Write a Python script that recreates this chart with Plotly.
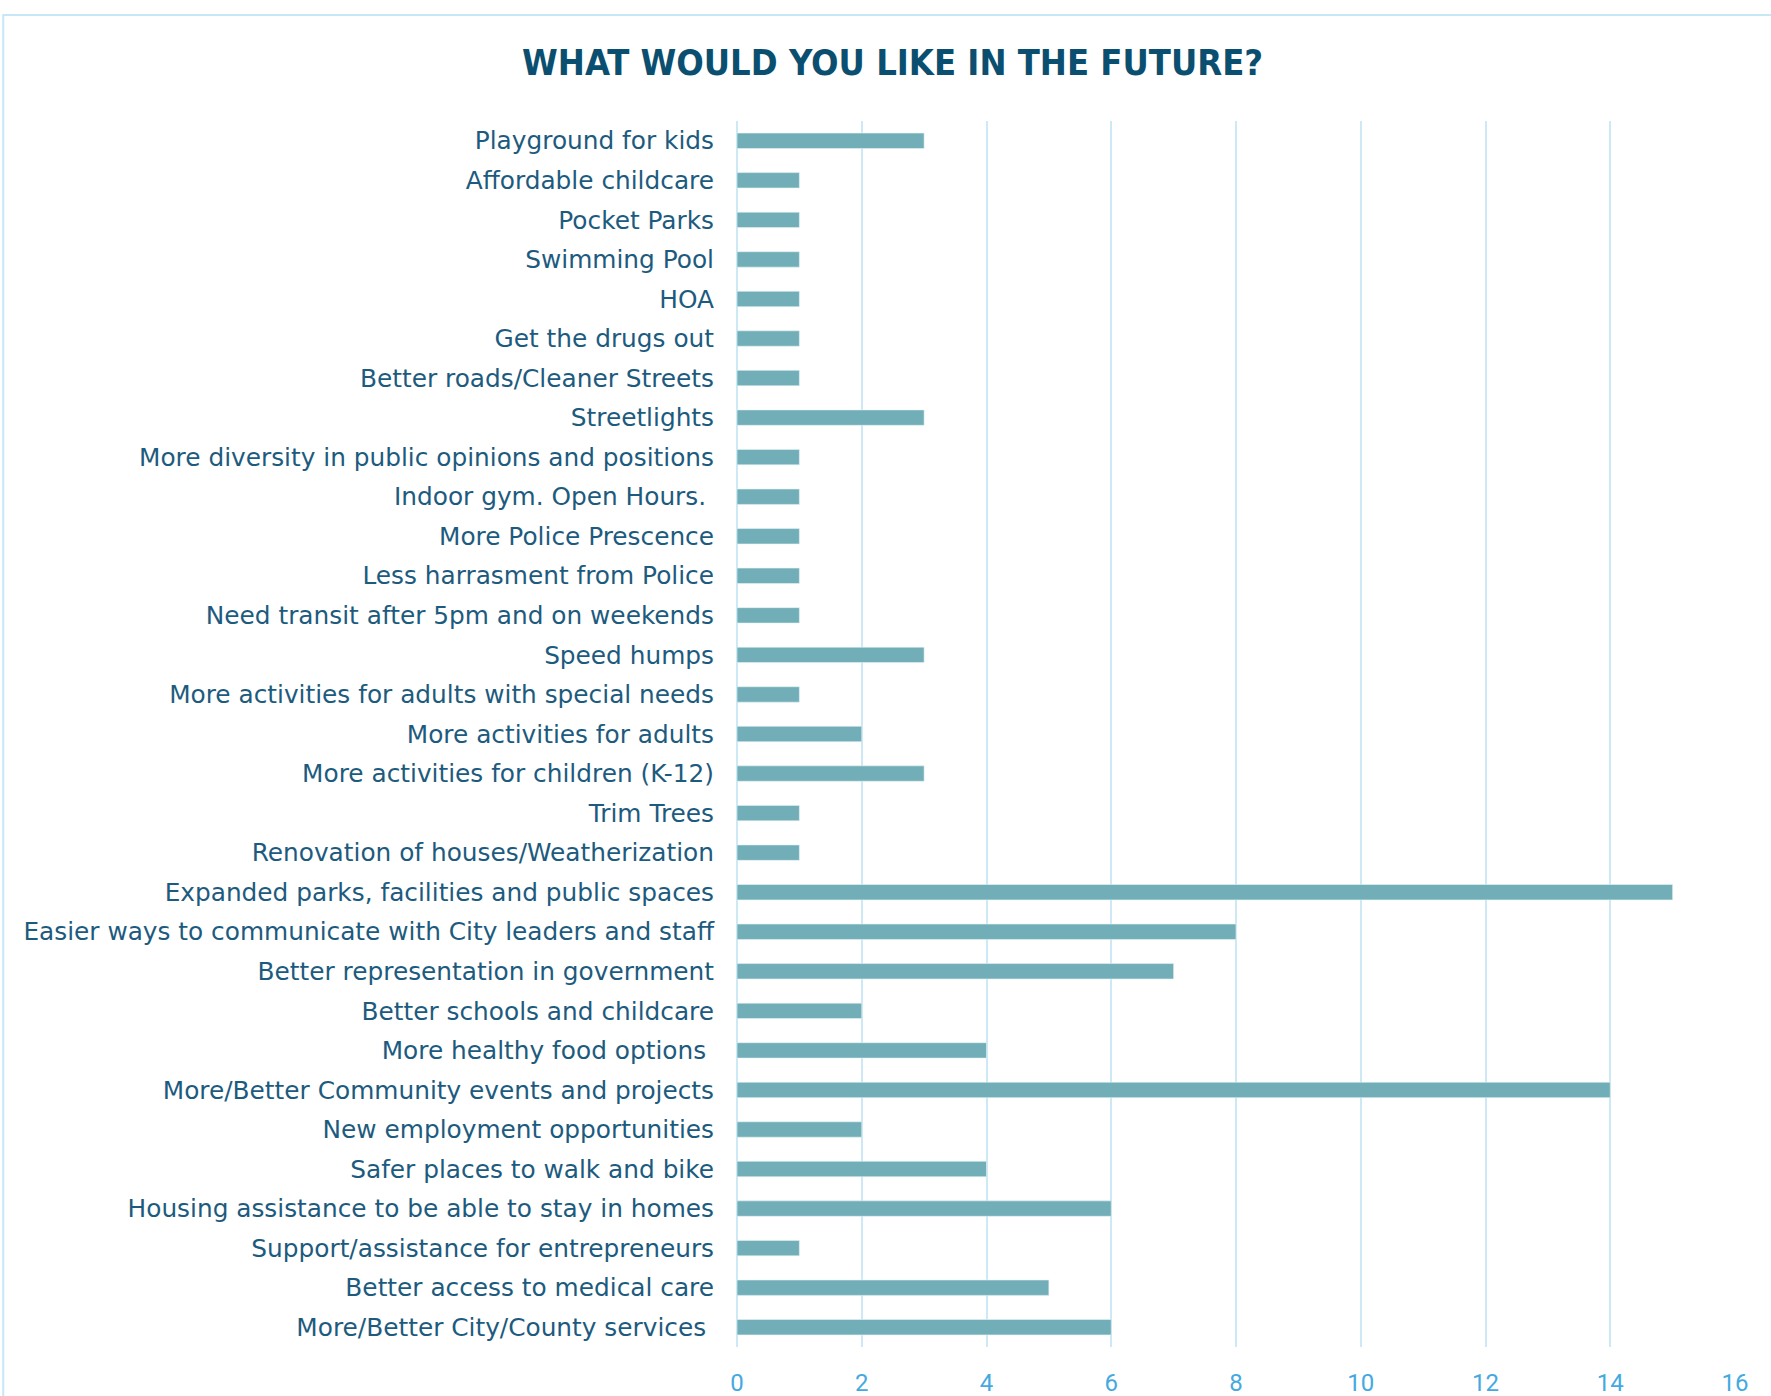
import plotly.graph_objects as go

# Survey responses, listed top to bottom as they appear on the chart
categories = [
    "Playground for kids",
    "Affordable childcare",
    "Pocket Parks",
    "Swimming Pool",
    "HOA",
    "Get the drugs out",
    "Better roads/Cleaner Streets",
    "Streetlights",
    "More diversity in public opinions and positions",
    "Indoor gym. Open Hours.\u00a0",
    "More Police Prescence",
    "Less harrasment from Police",
    "Need transit after 5pm and on weekends",
    "Speed humps",
    "More activities for adults with special needs",
    "More activities for adults",
    "More activities for children (K-12)",
    "Trim Trees",
    "Renovation of houses/Weatherization",
    "Expanded parks, facilities and public spaces",
    "Easier ways to communicate with City leaders and staff",
    "Better representation in government",
    "Better schools and childcare",
    "More healthy food options\u00a0",
    "More/Better Community events and projects",
    "New employment opportunities",
    "Safer places to walk and bike",
    "Housing assistance to be able to stay in homes",
    "Support/assistance for entrepreneurs",
    "Better access to medical care",
    "More/Better City/County services\u00a0",
]
counts = [3, 1, 1, 1, 1, 1, 1, 3, 1, 1, 1, 1, 1, 3, 1, 2, 3, 1, 1,
          15, 8, 7, 2, 4, 14, 2, 4, 6, 1, 5, 6]
x_ticks = [0, 2, 4, 6, 8, 10, 12, 14, 16]

W, H = 1771, 1396
L, R, T, B = 736.5, 1735.5, 121, 1347  # plot area in pixels

def px_x(p):
    return (p - L) / (R - L)

def px_y(p):
    return (B - p) / (B - T)

fig = go.Figure(
    go.Bar(
        x=counts,
        y=categories,
        orientation="h",
        marker=dict(color="#72aeb8", line=dict(color="#e6f3f5", width=0.6)),
        width=0.39,
        hoverinfo="x+y",
    )
)

fig.update_layout(
    width=W,
    height=H,
    margin=dict(l=L, r=W - R, t=T, b=H - B, pad=0, autoexpand=False),
    paper_bgcolor="white",
    plot_bgcolor="white",
    showlegend=False,
    title=dict(
        text="<b>WHAT WOULD YOU LIKE IN THE FUTURE?</b>",
        x=0.504,
        xref="container",
        xanchor="center",
        y=1 - 62 / H,
        yref="container",
        yanchor="middle",
        font=dict(family="DejaVu Sans Condensed, DejaVu Sans", size=36, color="#0b4f70"),
    ),
    xaxis=dict(
        range=[0, 16],
        tickvals=x_ticks,
        showgrid=True,
        gridcolor="#cde9f6",
        gridwidth=2,
        zeroline=True,
        zerolinecolor="#cde9f6",
        zerolinewidth=2,
        showline=False,
        ticks="",
        automargin=False,
        ticklabelstandoff=19,
        tickfont=dict(family="Liberation Sans Narrow, Roboto", size=24, color="#45a9e0"),
    ),
    yaxis=dict(
        autorange="reversed",
        type="category",
        showgrid=False,
        zeroline=False,
        showline=False,
        ticks="",
        automargin=False,
        ticklabelstandoff=22,
        tickfont=dict(family="DejaVu Sans", size=24.8, color="#1d5b7e"),
    ),
    shapes=[
        dict(
            type="rect",
            xref="paper",
            yref="paper",
            x0=px_x(2),
            x1=px_x(W + 20),
            y0=px_y(H + 20),
            y1=px_y(15),
            line=dict(color="#c8e7f6", width=2),
            fillcolor="rgba(0,0,0,0)",
            layer="below",
        )
    ],
)

fig.write_html("out.html")
